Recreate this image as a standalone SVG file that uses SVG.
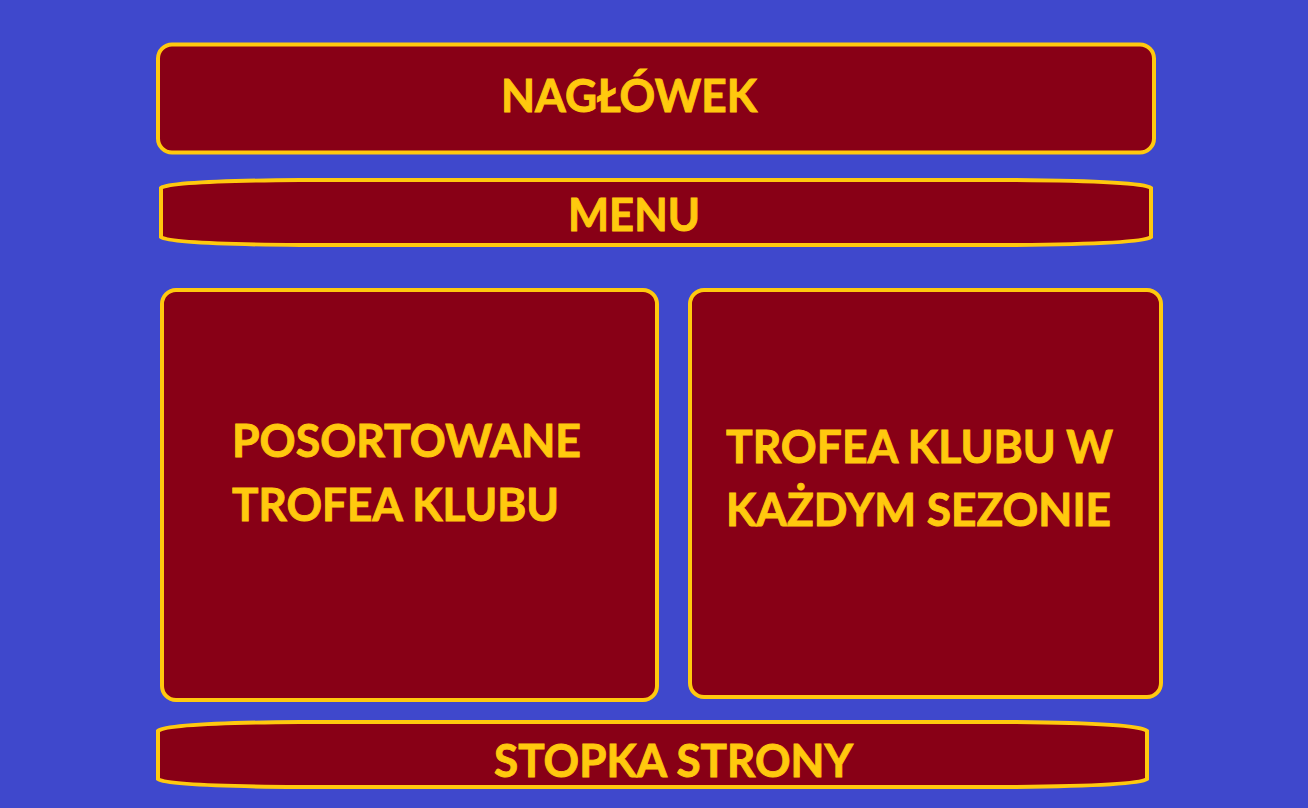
<svg xmlns="http://www.w3.org/2000/svg" width="1308" height="808" viewBox="0 0 1308 808">
<style>
.box{fill:#880016;stroke:#FFC90E;stroke-width:4}
.t{font-family:Lato,"Noto Sans","DejaVu Sans",sans-serif;font-weight:bold;font-size:45px;fill:#FFC90E;stroke:#FFC90E;stroke-width:0.9}
</style>
<rect width="1308" height="808" fill="#3F48CC"/>
<g id="header">
<rect class="box" x="158" y="44.5" width="996" height="108" rx="14"/>
<text class="t" x="501" y="112" textLength="256" lengthAdjust="spacingAndGlyphs">NAGŁÓWEK</text>
</g>
<g id="menu">
<path class="box" d="M161,188 Q170,181 300,180 L1012,180 Q1142,181 1151,188 L1151,237 Q1142,244 1012,245 L300,245 Q170,244 161,237 Z"/>
<text class="t" x="568" y="231" textLength="132" lengthAdjust="spacingAndGlyphs">MENU</text>
</g>
<g id="left">
<rect class="box" x="162" y="290" width="495" height="410" rx="14"/>
<text class="t" x="232" y="457" textLength="349" lengthAdjust="spacingAndGlyphs">POSORTOWANE</text>
<text class="t" x="232" y="521" textLength="327" lengthAdjust="spacingAndGlyphs">TROFEA KLUBU</text>
</g>
<g id="right">
<rect class="box" x="690" y="290" width="471" height="407" rx="14"/>
<text class="t" x="726" y="463" textLength="387" lengthAdjust="spacingAndGlyphs">TROFEA KLUBU W</text>
<text class="t" x="726" y="526" textLength="385" lengthAdjust="spacingAndGlyphs">KAŻDYM SEZONIE</text>
</g>
<g id="footer">
<path class="box" d="M158,731 Q167,723 300,722 L1005,722 Q1138,723 1147,731 L1147,779 Q1138,786 1005,787 L300,787 Q167,786 158,779 Z"/>
<text class="t" x="494" y="777" textLength="359" lengthAdjust="spacingAndGlyphs">STOPKA STRONY</text>
</g>
<g id="connectors"/>
</svg>
